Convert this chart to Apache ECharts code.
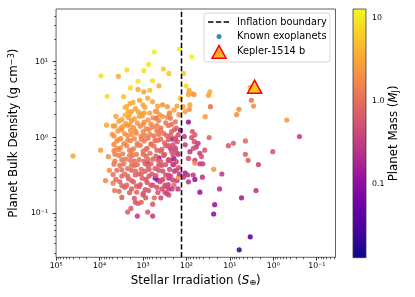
<!DOCTYPE html>
<html><head><meta charset="utf-8">
<script src="https://cdn.jsdelivr.net/npm/echarts@6/dist/echarts.min.js"></script>
<style>html,body{margin:0;padding:0;background:#fff}#c{width:415px;height:297px}</style>
</head><body><div id="c"></div>
<script>
// Stellar irradiation (S_earth), bulk density (g cm^-3), planet mass (M_J)
const irradiation = [
  550,145,76,740,340,254,117,2350,960,9300,
  3700,1300,600,1950,1300,700,430,102,6700,2800,
  960,138,87,76,67,90,29,31,2000,1200,
  780,1000,600,460,355,275,195,165,120,107,
  83,86,2400,2600,2600,1300,2050,1220,37,28,
  500,355,275,235,6900,4900,5100,4000,3300,2900,
  41000,9500,6300,5950,7300,4900,4500,3550,2260,1900,
  1350,780,600,1500,1400,550,600,1000,870,1100,
  1300,740,460,254,263,165,152,117,90,64,
  49,195,215,315,315,254,157,112,107,66,
  59,69,83,90,64,49,45,38,138,220,
  430,235,205,107,93,70,43,152,3.4,3.2,
  2.85,6.2,7.0,0.49,0.25,73,64,76,30,8.3,
  10.8,4.4,4.4,3.8,2.2,1.03,64,49,42,23.6,
  15.3,17.3,5.4,2.5,22.4,23.6,3.4,6.1,800,525,
  235,195,145,254,54,90,
  4210,3080,2150,1580,1040,765,590,
  3600,2510,1840,1350,940,655,435,300,180,
  4440,3250,2260,1660,1160,850,590,390,260,171,
  3800,2640,1940,1420,990,690,480,335,220,
  4670,3250,2260,1580,1100,765,560,390,285,180,
  4000,2780,1940,1350,940,655,455,318,162,
  2380,1660,1160,805,560,370,260,180,
  4670,2930,2040,1420,990,690,480,318,220,162,
  3600,2510,1750,1220,850,590,335,260,
  4440,2780,1940,1350,940,655,455,300,171,
  3420,2260,1580,1100,765,530,370,245,
  4000,2640,1840,1280,890,620,435,300,190,
  3080,2150,1500,1040,725,350,233,
  3420,2380,1660,1160,805,590,410,
  2640,1840,1220,890,480,370,
  1700,1500,900,700,520,2200,1100,420,250,150,
  1840,940,480,245,
  2040,990,480,220,
  3080,1500,725,390,190,
  1840,890,435,233,155,
  3600,2260,1100,530,260,180,
  4670,1350,655,300,205,
  3600,1840,850,390,180,
  4440,2040,990,505,205,155,
  3080,1580,765,390,260,
  4670,1840,890,435,195,
  3080,1500,725,350,171,
  4900,2260,1100,505,260,
  4210,1840,850,390,205,
  3080,1420,655,300,
  2040,990,455,285,
  3080,1580,390
];
const density = [
  13.5,14.7,11.6,9.2,8.0,7.0,7.0,7.8,7.6,6.5,
  6.4,5.5,5.6,4.5,4.3,4.2,4.8,4.8,3.5,3.45,
  4.0,3.3,4.2,3.8,3.7,3.7,4.0,3.6,2.8,3.1,
  3.3,2.7,2.95,2.6,2.7,2.55,2.3,2.6,2.55,2.2,
  2.7,2.35,2.55,2.5,1.98,2.2,2.0,1.9,1.88,2.55,
  1.8,1.9,1.85,1.8,1.46,1.42,1.1,0.72,0.73,1.4,
  0.57,0.68,0.56,0.37,0.27,0.25,0.2,0.195,0.104,0.116,
  0.092,0.104,0.092,0.14,0.19,0.16,0.132,0.175,0.16,0.14,
  0.135,0.2,0.275,0.29,0.24,0.27,0.3,0.3,0.26,0.28,
  0.19,0.235,0.21,0.235,0.19,0.175,0.21,1.03,0.8,0.88,
  0.75,0.72,0.65,0.53,0.5,0.62,0.56,0.68,1.25,0.96,
  0.54,0.5,0.44,0.34,0.32,0.32,0.3,0.4,4.6,3.1,
  2.6,2.35,2.0,1.7,1.03,1.2,1.08,1.0,1.0,0.84,
  0.78,0.9,0.6,0.5,0.44,0.65,0.46,0.45,0.45,0.38,
  0.33,0.21,0.16,0.2,0.13,0.098,0.049,0.033,0.46,0.29,
  0.72,0.53,0.33,0.21,0.84,1.6,
  1.9,1.72,1.84,1.76,1.93,1.7,1.82,
  1.64,1.52,1.66,1.55,1.6,1.5,1.67,1.56,1.61,
  1.42,1.32,1.45,1.35,1.41,1.3,1.38,1.34,1.44,1.33,
  1.22,1.12,1.24,1.14,1.2,1.1,1.23,1.13,1.2,
  1.05,0.97,1.06,0.96,1.04,0.98,1.05,0.95,1.06,0.99,
  0.9,0.83,0.91,0.84,0.9,0.82,0.92,0.85,0.88,
  0.78,0.71,0.79,0.72,0.77,0.7,0.78,0.73,
  0.67,0.61,0.68,0.6,0.66,0.62,0.68,0.6,0.66,0.62,
  0.58,0.52,0.58,0.51,0.57,0.52,0.58,0.51,
  0.49,0.45,0.5,0.44,0.49,0.45,0.5,0.44,0.48,
  0.43,0.39,0.43,0.38,0.42,0.39,0.43,0.38,
  0.37,0.33,0.37,0.33,0.36,0.33,0.37,0.32,0.36,
  0.31,0.285,0.32,0.29,0.31,0.28,0.31,
  0.26,0.235,0.26,0.24,0.255,0.235,0.26,
  0.22,0.21,0.225,0.205,0.22,0.21,
  2.9,2.4,2.5,2.1,2.2,2.2,2.05,2.0,2.05,2.0,
  2.2,2.1,2.25,2.12,
  1.47,1.5,1.44,1.49,
  1.26,1.22,1.28,1.24,1.27,
  1.09,1.06,1.1,1.07,1.08,
  0.94,0.92,0.95,0.91,0.94,0.93,
  0.81,0.79,0.82,0.78,0.8,
  0.69,0.67,0.7,0.66,0.68,
  0.6,0.58,0.6,0.57,0.59,0.6,
  0.51,0.49,0.51,0.48,0.5,
  0.445,0.43,0.45,0.43,0.44,
  0.375,0.36,0.38,0.36,0.37,
  0.325,0.31,0.33,0.315,0.32,
  0.28,0.27,0.28,0.27,0.275,
  0.232,0.228,0.235,0.226,
  0.187,0.183,0.188,0.182,
  0.162,0.158,0.16
];
const mass = [
  11,12,11,10,6,5.5,6,8,9,9,
  3.5,9,8,8,3.5,5,3.5,8,8,5,
  3,5,3.5,3.5,2.2,3,3.5,3,3.5,3,
  3.5,3,3,2.8,2,2.5,3,3,3,2.8,
  3,2,3.5,5,4.5,3,4.5,3,2.5,1.1,
  0.8,2.5,1.8,1.2,3,3,2.5,2.5,2,2.8,
  3,2.8,2,1.8,1.6,1.5,1.2,1.0,0.7,0.7,
  0.3,0.6,0.3,0.6,0.9,0.9,0.6,0.6,0.6,0.8,
  0.7,0.6,0.13,0.35,0.3,0.3,2.5,0.3,0.25,0.12,
  0.12,0.9,0.35,0.6,0.6,0.5,0.3,0.3,0.35,0.5,
  0.35,0.5,0.3,0.5,0.3,0.3,0.5,0.6,0.12,0.12,
  0.13,0.3,0.3,0.15,0.3,0.3,0.25,0.6,4,1.1,
  2,2,2,2.5,0.3,0.6,0.6,0.5,0.9,0.7,
  0.6,0.9,0.7,0.7,0.35,0.6,1.8,0.3,0.35,2.5,
  0.3,0.25,0.15,0.25,0.12,0.1,0.04,0.025,0.13,0.12,
  0.3,0.13,0.3,0.3,0.3,0.12,
  3,3.2,2.8,3,2.6,2.2,2,
  2.8,3,2.6,2.4,2.2,1.8,1.6,1.3,1.2,
  2.6,2.5,2.4,2.2,2,1.8,1.6,1.4,1.2,0.8,
  2.4,2.2,2.2,2,1.7,1.5,1.3,1.1,0.9,
  2.2,2,2,1.8,1.6,1.3,1.2,1.0,0.8,0.6,
  1.9,1.8,1.7,1.5,1.3,1.2,1.0,0.8,0.6,
  1.6,1.5,1.3,1.1,1.0,0.8,0.6,0.5,
  1.6,1.5,1.4,1.3,1.1,1.0,0.8,0.7,0.5,0.45,
  1.4,1.3,1.2,1.1,0.9,0.8,0.6,0.5,
  1.4,1.2,1.1,1.0,0.9,0.8,0.7,0.55,0.4,
  1.1,1.0,0.9,0.85,0.75,0.65,0.55,0.45,
  1.1,1.0,0.9,0.8,0.7,0.65,0.55,0.5,0.4,
  0.9,0.85,0.8,0.7,0.6,0.5,0.4,
  0.8,0.75,0.7,0.65,0.6,0.55,0.5,
  0.7,0.65,0.6,0.55,0.5,0.45,
  3.5,3.2,3,2.8,2.6,3.5,3,2.4,2,2.2,
  3,2.8,2.4,2,
  2.5,2,1.5,1,
  2.4,2,1.5,1.2,0.8,
  2,1.6,1.1,0.8,0.5,
  2,1.8,1.4,1.0,0.7,0.5,
  1.8,1.4,1.1,0.7,0.5,
  1.6,1.4,1.0,0.7,0.45,
  1.5,1.3,1.0,0.8,0.5,0.4,
  1.3,1.1,0.9,0.7,0.5,
  1.2,1.0,0.8,0.6,0.35,
  1.0,0.9,0.7,0.55,0.4,
  1.0,0.85,0.7,0.55,0.45,
  0.9,0.8,0.6,0.5,0.4,
  0.8,0.7,0.55,0.45,
  0.7,0.6,0.5,0.4,
  0.7,0.6,0.45
];
const boundaryIrradiation = 130;
const keplerName = 'Kepler-1514 b';
const keplerIrradiation = 2.7;
const keplerDensity = 4.68;
const keplerMass = 5.28;

const xMajorTicks = [0.1, 1, 10, 100, 1000, 10000, 100000];
const yMajorTicks = [0.1, 1, 10];
const massTicks = [0.1, 1, 10];
const massTickLabels = ['0.1', '1.0', '10'];
const xRange = [0.037, 100500];
const yRange = [0.0263, 49.5];
const massRange = [0.0129, 12.9];

const plasma = ['#0d0887','#41049d','#6a00a8','#8f0da4','#b12a90','#cc4778','#e16462','#f2844b','#fca636','#fcce25','#f0f921'];

function minorTicks(lo, hi) {
  const out = [];
  for (let d = -3; d <= 6; d++) for (let k = 2; k <= 9; k++) {
    const v = k * Math.pow(10, d);
    if (v > lo && v < hi) out.push(v);
  }
  return out;
}
const supMap = {'-':'⁻','0':'⁰','1':'¹','2':'²','3':'³','4':'⁴','5':'⁵','6':'⁶','7':'⁷','8':'⁸','9':'⁹'};
function powLabel(v) {
  const e = String(Math.round(Math.log10(v)));
  return '10' + e.split('').map(c => supMap[c]).join('');
}

const FONT = 'DejaVu Sans';
const tickFont = {fontFamily: FONT, fontSize: 7.8, color: '#000'};
const titleStyle = {fontFamily: FONT, fontSize: 11.8, color: '#000',
  rich: {
    i: {fontFamily: FONT, fontSize: 11.8, fontStyle: 'italic', color: '#000'},
    sub: {fontFamily: FONT, fontSize: 8.2, color: '#000', verticalAlign: 'bottom', padding: [4, 0, 0, 0]},
    sup: {fontFamily: FONT, fontSize: 8.2, color: '#000', verticalAlign: 'top'}
  }};

const planets = irradiation.map((s, i) => [s, density[i], mass[i], Math.log10(mass[i])]);

const chart = echarts.init(document.getElementById('c'), null, {renderer: 'canvas'});
chart.setOption({
  animation: false,
  backgroundColor: '#fff',
  grid: [
    {left: 51.7, top: 9, width: 283.8, height: 248.3, show: true, borderColor: '#3a3a3a', borderWidth: 0.8, backgroundColor: 'transparent'},
    {left: 353, top: 9, width: 13, height: 248.7}
  ],
  xAxis: [
    {gridIndex: 0, type: 'log', logBase: 10, inverse: true, min: xRange[0], max: xRange[1],
     axisLine: {show: false}, splitLine: {show: false},
     axisTick: {customValues: xMajorTicks, length: 3.4, lineStyle: {color: '#000', width: 0.8}},
     axisLabel: Object.assign({customValues: xMajorTicks, formatter: powLabel, margin: 5}, tickFont),
     name: 'Stellar Irradiation ({i|S}{sub|⊕})', nameLocation: 'middle', nameGap: 17, nameTextStyle: titleStyle},
    {gridIndex: 0, type: 'log', logBase: 10, inverse: true, min: xRange[0], max: xRange[1], position: 'bottom',
     axisLine: {show: false}, splitLine: {show: false}, axisLabel: {show: false},
     axisTick: {customValues: minorTicks(xRange[0], xRange[1]), length: 2, lineStyle: {color: '#000', width: 0.6}}},
    {gridIndex: 1, type: 'value', min: 0, max: 1, show: false}
  ],
  yAxis: [
    {gridIndex: 0, type: 'log', logBase: 10, min: yRange[0], max: yRange[1],
     axisLine: {show: false}, splitLine: {show: false},
     axisTick: {customValues: yMajorTicks, length: 3.4, lineStyle: {color: '#000', width: 0.8}},
     axisLabel: Object.assign({customValues: yMajorTicks, formatter: powLabel, margin: 8}, tickFont),
     name: 'Planet Bulk Density (g cm{sup|−3})', nameLocation: 'middle', nameGap: 26, nameRotate: 90, nameTextStyle: titleStyle},
    {gridIndex: 0, type: 'log', logBase: 10, min: yRange[0], max: yRange[1], position: 'left',
     axisLine: {show: false}, splitLine: {show: false}, axisLabel: {show: false},
     axisTick: {customValues: minorTicks(yRange[0], yRange[1]), length: 2, lineStyle: {color: '#000', width: 0.6}}},
    {gridIndex: 1, type: 'log', logBase: 10, min: massRange[0], max: massRange[1], position: 'right',
     axisLine: {show: false}, splitLine: {show: false},
     axisTick: {customValues: massTicks, length: 3.4, lineStyle: {color: '#000', width: 0.8}},
     axisLabel: Object.assign({customValues: massTicks, margin: 6,
       formatter: v => massTickLabels[massTicks.findIndex(t => Math.abs(Math.log10(t) - Math.log10(v)) < 1e-6)]}, tickFont),
     name: 'Planet Mass ({i|M}{sub|J})', nameLocation: 'middle', nameGap: 20, nameRotate: 90, nameTextStyle: titleStyle}
  ],
  visualMap: {
    type: 'continuous', show: false, seriesIndex: [0, 2], dimension: 3,
    min: Math.log10(massRange[0]), max: Math.log10(massRange[1]),
    inRange: {color: plasma}
  },
  legend: {
    left: 204, top: 13, orient: 'vertical', itemWidth: 24, itemHeight: 14, itemGap: 0.5,
    padding: [2, 3, 2.5, 3.3], backgroundColor: 'rgba(255,255,255,0.85)',
    borderColor: '#cccccc', borderWidth: 0.8, borderRadius: 2.5, selectedMode: false,
    textStyle: {fontFamily: FONT, fontSize: 9.8, color: '#000'},
    data: [
      {name: 'Inflation boundary', icon: 'path://M0,0M24,14M0,6.25h5.4v1.5h-5.4zM7.8,6.25h5.4v1.5h-5.4zM15.6,6.25h5.4v1.5h-5.4z', itemStyle: {color: '#000', borderWidth: 0}},
      {name: 'Known exoplanets', icon: 'path://M0,0M24,14M13.5,7a2.5,2.5 0 1,1 -5,0a2.5,2.5 0 1,1 5,0z', itemStyle: {color: '#1f77b4', borderWidth: 0}},
      {name: keplerName, icon: 'path://M0,0M24,14M11,0.8L18,13.4L4,13.4z', itemStyle: {color: '#fdb130', borderColor: '#ff0000', borderWidth: 1.5}}
    ]
  },
  series: [
    {name: 'Known exoplanets', type: 'scatter', xAxisIndex: 0, yAxisIndex: 0, data: planets,
     symbol: 'circle', symbolSize: 5.2, itemStyle: {opacity: 0.88}, z: 2, silent: true},
    {name: 'Inflation boundary', type: 'line', xAxisIndex: 0, yAxisIndex: 0,
     data: [[boundaryIrradiation, yRange[0]], [boundaryIrradiation, yRange[1]]],
     symbol: 'none', lineStyle: {color: '#000', width: 1.5, type: [5.4, 2.35]}, itemStyle: {color: '#000'}, z: 3, silent: true},
    {name: keplerName, type: 'scatter', xAxisIndex: 0, yAxisIndex: 0,
     data: [[keplerIrradiation, keplerDensity, keplerMass, Math.log10(keplerMass)]],
     symbol: 'triangle', symbolSize: [14, 13], itemStyle: {borderColor: '#ff0000', borderWidth: 1.5, opacity: 1}, z: 4, silent: true},
    {type: 'custom', xAxisIndex: 2, yAxisIndex: 2, data: [[0.5, 1]], silent: true,
     renderItem: function (params, api) {
       const cs = params.coordSys;
       return {type: 'rect', shape: {x: cs.x, y: cs.y, width: cs.width, height: cs.height},
         style: {fill: new echarts.graphic.LinearGradient(0, 1, 0, 0,
           plasma.map((c, i) => ({offset: i / (plasma.length - 1), color: c}))), stroke: '#3a3a3a', lineWidth: 0.8}};
     }}
  ]
});
</script>
</body></html>
